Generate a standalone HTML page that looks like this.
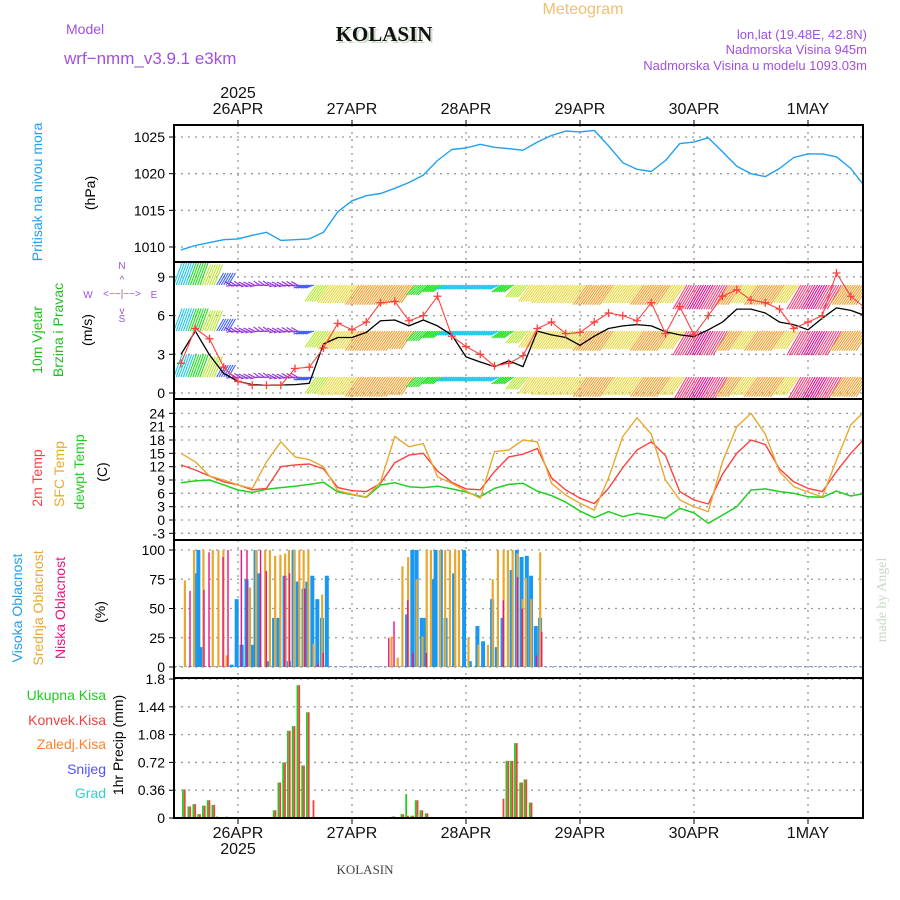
<!DOCTYPE html>
<html><head><meta charset="utf-8"><title>Meteogram KOLASIN</title>
<style>
html,body{margin:0;padding:0;background:#fff;}
svg{display:block;font-family:"Liberation Sans",sans-serif;}
</style></head>
<body>
<svg id="chart" width="900" height="900" viewBox="0 0 900 900">
  <text x="583" y="14" font-size="16" fill="#f0c070" text-anchor="middle">Meteogram</text>
  <text x="66" y="34" font-size="14" fill="#a050e0">Model</text>
  <text x="64" y="64" font-size="17" fill="#a050e0">wrf−nmm_v3.9.1  e3km</text>
  <text x="386" y="43" font-size="21" font-weight="bold" font-family="Liberation Serif, serif" fill="#c8dcc8" text-anchor="middle">KOLASIN</text>
  <text x="384" y="41" font-size="21" font-weight="bold" font-family="Liberation Serif, serif" fill="#111" text-anchor="middle">KOLASIN</text>
  <text x="867" y="39" font-size="13" fill="#a050e0" text-anchor="end">lon,lat (19.48E, 42.8N)</text>
  <text x="867" y="54" font-size="13" fill="#a050e0" text-anchor="end">Nadmorska Visina 945m</text>
  <text x="867" y="70" font-size="13" fill="#a050e0" text-anchor="end">Nadmorska Visina u modelu 1093.03m</text>

  <text transform="translate(42,192) rotate(-90)" font-size="14" fill="#1fa0f0" text-anchor="middle">Pritisak na nivou mora</text>
  <text transform="translate(95,193) rotate(-90)" font-size="14" fill="#000" text-anchor="middle">(hPa)</text>
  <text transform="translate(42,340) rotate(-90)" font-size="14" fill="#20c020" text-anchor="middle">10m Vjetar</text>
  <text transform="translate(63,330) rotate(-90)" font-size="14" fill="#20c020" text-anchor="middle">Brzina i Pravac</text>
  <text transform="translate(92,330) rotate(-90)" font-size="14" fill="#000" text-anchor="middle">(m/s)</text>
  <g font-size="10" fill="#a050e0" text-anchor="middle">
    <text x="122" y="269">N</text><text x="122" y="322">S</text>
    <text x="88" y="298">W</text><text x="154" y="298">E</text>
    <text x="122" y="297">&lt;−−|−−&gt;</text>
    <text x="122" y="283">^</text><text x="122" y="314">v</text>
  </g>
  <text transform="translate(42,478) rotate(-90)" font-size="14" fill="#ff4040" text-anchor="middle">2m Temp</text>
  <text transform="translate(64,474) rotate(-90)" font-size="14" fill="#e8a830" text-anchor="middle">SFC Temp</text>
  <text transform="translate(84,472) rotate(-90)" font-size="14" fill="#20d020" text-anchor="middle">dewpt Temp</text>
  <text transform="translate(107,472) rotate(-90)" font-size="14" fill="#000" text-anchor="middle">(C)</text>
  <text transform="translate(22,608) rotate(-90)" font-size="14" fill="#1fa0f0" text-anchor="middle">Visoka Oblacnost</text>
  <text transform="translate(43,608) rotate(-90)" font-size="14" fill="#e8a830" text-anchor="middle">Srednja Oblacnost</text>
  <text transform="translate(65,608) rotate(-90)" font-size="14" fill="#f01080" text-anchor="middle">Niska Oblacnost</text>
  <text transform="translate(105,612) rotate(-90)" font-size="14" fill="#000" text-anchor="middle">(%)</text>
  <g font-size="14" text-anchor="end">
    <text x="106" y="700" fill="#22cc22">Ukupna  Kisa</text>
    <text x="106" y="725" fill="#f04040">Konvek.Kisa</text>
    <text x="106" y="749" fill="#ff8030">Zaledj.Kisa</text>
    <text x="106" y="774" fill="#5050ff">Snijeg</text>
    <text x="106" y="798" fill="#30d0d0">Grad</text>
  </g>
  <text transform="translate(123,745) rotate(-90)" font-size="14" fill="#000" text-anchor="middle">1hr Precip (mm)</text>
  <text transform="translate(886,600) rotate(-90)" font-size="14" fill="#c8d8c8" font-family="Liberation Serif, serif" text-anchor="middle">made by Angel</text>
  <text x="365" y="874" font-size="13" fill="#444" font-family="Liberation Serif, serif" text-anchor="middle">KOLASIN</text>

  <g id="grid"></g>
  <defs><clipPath id="windClip"><rect x="175" y="263" width="687" height="135"/></clipPath>
  <clipPath id="plotClip"><rect x="175" y="126" width="687" height="691"/></clipPath></defs>
  <g id="marks" clip-path="url(#plotClip)"></g>
  <g id="windArrows" clip-path="url(#windClip)"></g>
  <g id="windLines" clip-path="url(#plotClip)"></g>
  <g id="frames"></g>
  <g id="axes"></g>
</svg>
<script>
// ---- data (hours relative to 26APR 00UTC) ----
const dayLabels = ["26APR","27APR","28APR","29APR","30APR","1MAY"];
const dayHours = [0,24,48,72,96,120];
const t3Start = -12, t3Step = 3;
const pressure = [1009.6,1010.2,1010.6,1011.0,1011.1,1011.6,1012.0,1010.9,1011.0,1011.1,1012.0,1014.8,1016.3,1017.0,1017.3,1018.0,1018.8,1019.8,1021.8,1023.3,1023.5,1024.0,1023.6,1023.4,1023.2,1024.3,1025.2,1025.8,1025.7,1025.9,1023.8,1021.5,1020.6,1020.3,1021.8,1024.1,1024.3,1024.9,1023.0,1021.0,1020.0,1019.6,1020.7,1022.2,1022.7,1022.7,1022.3,1020.7,1018.2];
const windSpeed = [3.0,4.8,2.95,1.5,0.9,0.65,0.6,0.62,0.65,0.75,3.8,4.3,4.3,4.7,5.6,5.66,5.2,5.66,5.2,4.5,2.8,2.4,2.05,2.5,2.05,4.8,4.5,4.3,3.7,4.4,5.0,5.2,5.3,5.2,4.75,4.5,4.37,4.9,5.5,6.5,6.5,6.2,5.5,5.3,4.9,5.8,6.6,6.4,6.0];
const windGust = [2.3,5.0,4.2,2.0,0.9,0.6,0.6,0.6,1.9,2.0,3.5,5.4,4.9,5.5,7.0,7.1,5.6,6.0,7.5,4.4,3.6,3.0,2.1,2.3,2.9,5.0,5.5,4.6,4.7,5.5,6.2,6.0,5.6,7.0,4.6,6.7,4.5,6.0,7.5,8.0,7.2,7.0,6.5,5.0,5.5,6.0,9.3,7.5,6.6];
const windColor = ["cyan","green","ygreen","blue","purple","purple","purple","purple","purple","blue","ygreen","yellow","yellow","orange","orange","orange","orange","green","green","cyan","cyan","cyan","cyan","green","ygreen","yellow","yellow","yellow","yellow","orange","orange","yellow","yellow","orange","orange","yellow","pink","magenta","pink","orange","yellow","orange","orange","yellow","pink","magenta","pink","orange","orange"];
const windLen = [24,24,22,14,7,7,7,7,7,9,20,22,22,24,24,24,22,14,12,10,10,10,10,12,16,20,22,22,22,24,24,22,22,24,24,22,28,28,28,24,22,24,24,22,28,28,28,24,24];
const windAng = [70,70,68,60,165,170,160,170,165,200,235,235,235,235,235,235,235,225,215,205,205,205,205,215,230,235,235,235,235,235,235,235,235,235,235,235,240,240,240,235,235,235,235,235,240,240,240,235,235];
const temp2m = [12.4,11.25,9.9,8.6,7.9,6.8,7.1,12.0,12.4,12.6,11.5,7.3,6.6,6.4,8.25,12.9,14.6,15.0,11.0,8.5,7.0,6.8,10.9,14.2,14.8,16.1,9.5,6.75,4.9,3.7,7.1,11.8,15.75,17.6,14.5,6.4,4.5,3.6,10.3,15.0,18.0,17.0,11.5,8.6,7.1,6.4,10.9,15.0,18.4];
const tempSfc = [15.0,13.1,9.9,9.0,7.9,7.1,13.1,17.6,14.2,13.6,12.0,6.6,5.8,5.2,8.5,18.8,16.5,17.2,9.75,8.25,6.5,4.9,15.4,15.75,18.0,17.6,8.25,5.6,3.75,2.2,9.4,18.8,23.0,19.3,9.0,4.5,3.0,1.9,13.1,21.0,24.0,19.3,10.9,7.5,6.3,5.2,13.5,21.4,24.6];
const dewpoint = [8.4,8.8,9.0,7.9,6.75,6.2,6.9,7.3,7.6,8.0,8.5,6.3,5.7,5.1,7.9,8.4,7.5,7.3,7.6,7.0,6.3,5.25,7.1,8.0,8.25,6.5,5.5,4.0,2.0,0.5,1.9,0.75,1.5,1.0,0.4,2.6,1.6,-0.75,1.1,3.0,6.75,7.0,6.4,6.0,5.25,5.1,6.5,5.4,6.0];
const highHours = [-9.05,-8.35,-7.65,-1.33,-0.28,0.77,1.8,2.9,3.7,4.5,6.4,7.6,8.5,9.8,10.7,11.7,12.6,13.8,14.6,15.65,16.7,17.7,18.7,35.6,36.7,37.6,38.7,39.5,41.0,41.6,42.7,43.7,45.5,47.6,48.8,50.4,51.6,53.5,54.5,55.7,57.6,58.7,59.7,60.8,61.7,62.7,63.6];
const highVals = [80,100,17,2,58,19,75,19,100,80,5,42,42,78,5,100,73,67,73,78,58,42,78,45,100,100,42,42,75,100,100,42,80,100,5,35,22,58,17,42,83,100,94,95,78,35,42];
const midHours = [-11.2,-9.26,-7.3,-5.33,-4.14,-3.09,-2.4,2.5,3.8,5.7,6.7,7.8,8.9,9.9,10.7,11.8,12.9,13.8,14.8,15.9,17.7,32.3,33.6,34.6,35.8,37.6,38.8,39.7,40.6,42.5,43.6,44.6,45.7,46.5,48.5,50.6,52.6,53.6,54.7,55.9,56.8,57.8,58.8,59.9,60.6,61.7,63.6];
const midVals = [74,100,100,100,100,100,10,68,100,100,100,95,96,97,100,100,100,100,100,20,62,26,8,86,94,75,26,100,100,100,100,100,100,100,25,19,19,75,100,100,100,100,97,58,76,58,98];
const lowHours = [-10.25,-7.3,-6.25,-3.3,-2.25,0.56,1.75,4.6,5.8,9.7,10.7,13.9,16.7,17.8,31.6,32.7,35.6,36.7,39.5,55.7,58.7,59.7,62.7,63.8];
const lowVals = [65,66,98,94,100,100,100,100,82,78,80,67,3,12,25,39,57,12,12,57,77,50,10,30];
const precipHours = [-11.4,-10.25,-9.2,-8.2,-7.2,-6.2,-5.2,-4.2,-2.2,-1.2,6.7,7.7,8.7,9.7,10.7,11.7,12.7,13.7,14.7,15.7,31.7,32.7,34.6,35.6,36.7,37.6,38.6,39.7,55.7,56.7,57.6,58.5,59.6,60.5,61.6];
const precipTotal = [0.37,0.15,0.18,0.05,0.16,0.23,0.17,0.02,0.02,0.01,0.01,0.1,0.46,0.72,1.13,1.19,1.72,0.68,1.37,0,0.01,0.02,0.05,0.31,0.03,0.23,0.1,0.06,0,0.74,0.74,0.97,0.46,0.5,0.2];
const precipConv = [0.37,0.15,0.18,0.05,0.16,0.23,0.17,0.0,0.01,0.0,0.01,0.1,0.46,0.72,1.13,1.19,1.72,0.68,1.37,0.23,0.01,0.02,0.05,0.03,0.03,0.23,0.1,0.06,0.25,0.74,0.74,0.97,0.46,0.5,0.2];
const pTicks = [1010,1015,1020,1025];
const wTicks = [0,3,6,9];
const tTicks = [-3,0,3,6,9,12,15,18,21,24];
const cTicks = [0,25,50,75,100];
const rTicks = ["0","0.36","0.72","1.08","1.44","1.8"];

// ---- axes ----
const L = 174, R = 863;
const X = h => 238 + 4.75 * h;
const Yp = v => 137 + (1025 - v) * 7.333;
const Yw = v => 393 - v * 12.9;
const Yt = v => 520 - v * 4.444;
const Yc = v => 667 - v * 1.17;
const Yr = v => 818 - v * 77.2;
const panels = [[125,262],[262,399],[399,540],[540,678],[678,818]];
const NS = "http://www.w3.org/2000/svg";
function mk(tag, attrs, parent){ const e=document.createElementNS(NS,tag); for(const k in attrs) e.setAttribute(k,attrs[k]); parent.appendChild(e); return e; }
const grid = document.getElementById('grid'), marks=document.getElementById('marks'), axes=document.getElementById('axes'), frames=document.getElementById('frames'), windG=document.getElementById('windArrows'), windL=document.getElementById('windLines');
const svg = document.getElementById('chart');
const t3 = pressure.map((_,i)=>t3Start+i*t3Step);

dayHours.forEach((h,i)=>{
  panels.forEach(p=>{
    const ln = mk('line',{x1:X(h),x2:X(h),y1:p[0],y2:p[1],stroke:'#999','stroke-width':1.3,'stroke-dasharray':'2 5'},grid);
    
    
  });
  const tl = mk('text',{x:X(h),y:114,'font-size':16,'text-anchor':'middle',fill:'#111'},svg);
  tl.textContent = dayLabels[i];
  
  
  const bl = mk('text',{x:X(h),y:838,'font-size':16,'text-anchor':'middle',fill:'#111'},svg);
  bl.textContent = dayLabels[i];
  
  
  mk('line',{x1:X(h),x2:X(h),y1:120,y2:125,stroke:'#000'},axes);
  mk('line',{x1:X(h),x2:X(h),y1:818,y2:824,stroke:'#000'},axes);
});
const y1 = mk('text',{x:X(0),y:98,'font-size':16,'text-anchor':'middle',fill:'#111'},svg); y1.textContent='2025';


const y2 = mk('text',{x:X(0),y:854,'font-size':16,'text-anchor':'middle',fill:'#111'},svg); y2.textContent='2025';



function yAxis(ticks, fy, name, gridOn){
  ticks.forEach(t=>{
    const v = parseFloat(t), y = fy(v);
    if(gridOn){ const g=mk('line',{x1:L,x2:R,y1:y,y2:y,stroke:'#999','stroke-width':1.3,'stroke-dasharray':'2 5'},grid);
      
       }
    mk('line',{x1:L-5,x2:L,y1:y,y2:y,stroke:'#000'},axes);
    const tx = mk('text',{x:L-9,y:y+5,'font-size':14,'text-anchor':'end',fill:'#000'},axes);
    tx.textContent = t;
    
    
  });
}
yAxis(pTicks,Yp,'pressure',true);
yAxis(wTicks,Yw,'wind',true);
yAxis(tTicks,Yt,'temp',true);
yAxis(cTicks,Yc,'cloud',true);
yAxis(rTicks,Yr,'precip',true);

function path(vals, fy, color, w, name, parent){
  const d = vals.map((v,i)=>(i?'L':'M')+X(t3[i]).toFixed(1)+' '+fy(v).toFixed(1)).join(' ');
  const p = mk('path',{d:d,fill:'none',stroke:color,'stroke-width':w,'stroke-linejoin':'round'},parent||marks);
  
  
}
path(pressure,Yp,'#1fa0f0',1.4,'pressure-line');

const pal = {cyan:'#20c8e8',green:'#20e020',ygreen:'#b8e830',yellow:'#e8d840',orange:'#f0a030',blue:'#4060ff',purple:'#9030e0',pink:'#f04080',magenta:'#e0108a'};
const rows = [239,285,331,377,423];
windColor.forEach((c,i)=>{
  const len = windLen[i];
  for(let k=0;k<6;k++){
    const wob = (c==='purple') ? (k%2 ? 25 : -15) : 0;
    const a = (windAng[i]+wob)*Math.PI/180;
    const h = t3[i] - 1.5 + k*0.5;
    rows.forEach(ry=>{
      const x0 = X(h), dx = len*Math.cos(a), dy = -len*Math.sin(a);
      const ln = mk('line',{x1:x0,y1:ry,x2:x0+dx,y2:ry+dy,stroke:pal[c],'stroke-width':1.1},windG);
      
      
    });
  }
});
path(windSpeed,Yw,'#000',1.3,'wind-speed-line',windL);
path(windGust,Yw,'#ff4040',1.1,'wind-gust-line',windL);
windGust.forEach((v,i)=>{
  const x=X(t3[i]), y=Yw(v);
  const g = mk('path',{d:`M${x-4} ${y}H${x+4}M${x} ${y-4}V${y+4}`,stroke:'#ff4040','stroke-width':1.3},windL);
  
  
});

path(dewpoint,Yt,'#20d020',1.5,'dewpoint-line');
path(temp2m,Yt,'#ff4040',1.4,'temp-2m-line');
path(tempSfc,Yt,'#e8a830',1.4,'temp-sfc-line');

function bars(hours, vals, fy, color, w, off, name){
  hours.forEach((h,i)=>{
    const y = fy(vals[i]), y0 = fy(0);
    const r = mk('rect',{x:X(h)+off,y:Math.min(y,y0),width:w,height:Math.max(Math.abs(y0-y),0.8),fill:color},marks);
    
    
  });
}
const zl = mk('line',{x1:L,x2:R,y1:Yc(0)-0.5,y2:Yc(0)-0.5,stroke:'#8aa0d0','stroke-width':1,'stroke-dasharray':'3 2'},marks);


bars(highHours,highVals,Yc,'#1898f0',4,-2,'high-cloud-bar');
bars(midHours,midVals,Yc,'#e8a830',2.2,-1,'mid-cloud-bar');
bars(lowHours,lowVals,Yc,'#f01080',1.4,0,'low-cloud-bar');

bars(precipHours,precipTotal,Yr,'#22cc22',1.8,-1.8,'total-precip-bar');
bars(precipHours,precipConv,Yr,'#f04040',1.8,0,'conv-precip-bar');

panels.forEach((p,i)=>{
  const f = mk('rect',{x:L,y:p[0],width:R-L,height:p[1]-p[0],fill:'none',stroke:'#000','stroke-width':2},frames);
  
  
});
</script>
</body></html>
